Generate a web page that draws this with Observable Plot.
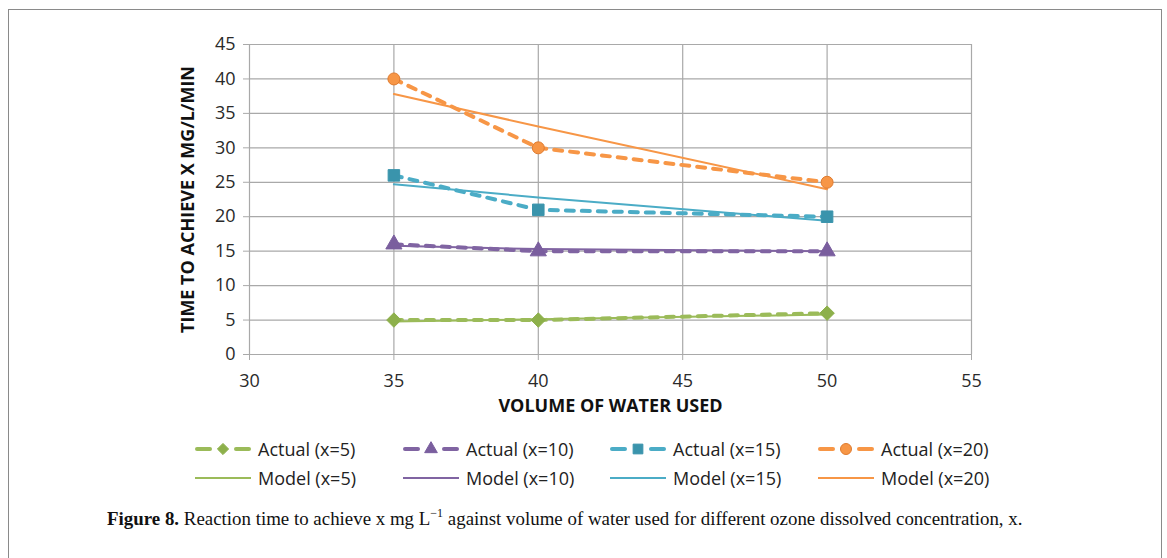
<!DOCTYPE html>
<html>
<head>
<meta charset="utf-8">
<script src="https://cdn.jsdelivr.net/npm/d3@7"></script>
<script src="https://cdn.jsdelivr.net/npm/@observablehq/plot@0.6"></script>
<style>
  html, body { margin: 0; padding: 0; background: #fff; width: 1167px; height: 558px; overflow: hidden; }
  #frame { position: absolute; left: 8px; top: 9px; width: 1154px; height: 620px; border: 1.5px solid #8a8a8a; box-sizing: border-box; }
  #chart { position: absolute; left: 0; top: 0; }
  #legend { position: absolute; left: 0; top: 0; font-family: "Open Sans", sans-serif; font-size: 18px; color: #222; }
  .item { position: absolute; display: flex; align-items: center; height: 24px; white-space: nowrap; }
  .item svg { margin-right: 7px; flex: none; }
  #caption { position: absolute; left: 107px; top: 510px; font-family: "Liberation Serif", serif; font-size: 18.9px; color: #111; white-space: nowrap; line-height: 1; }
  #caption b { font-weight: bold; }
  #caption sup { font-size: 12px; vertical-align: 8px; line-height: 0; }
</style>
</head>
<body>
<div id="frame"></div>
<div id="chart"></div>
<div id="legend"></div>
<div id="caption"><b>Figure 8.</b> Reaction time to achieve x mg L<sup>−1</sup> against volume of water used for different ozone dissolved concentration, x.</div>
<script>
// ---- data ----
const volumes = [35, 40, 50];
const actual5 = [5, 5, 6];
const actual10 = [16, 15, 15];
const actual15 = [26, 21, 20];
const actual20 = [40, 30, 25];
const model5 = [4.8, 5.1, 5.8];
const model10 = [15.8, 15.3, 15.0];
const model15 = [24.7, 22.8, 19.4];
const model20 = [37.8, 33.1, 24.0];
const xTicks = [30, 35, 40, 45, 50, 55];
const yTicks = [0, 5, 10, 15, 20, 25, 30, 35, 40, 45];
const xLabel = "VOLUME OF WATER USED";
const yLabel = "TIME TO ACHIEVE X MG/L/MIN";

// ---- series styling ----
const series = [
  {x: 5,  actual: actual5,  model: model5,  color: "#9BBB59", mark: "#8DB04B", symbol: "diamond2", r: 6.5, lsz: 80},
  {x: 10, actual: actual10, model: model10, color: "#8064A2", mark: "#7A5E9E", symbol: "triangle", r: 6, lsz: 70},
  {x: 15, actual: actual15, model: model15, color: "#4BACC6", mark: "#3A94AC", symbol: "square", r: 6.5, lsz: 95},
  {x: 20, actual: actual20, model: model20, color: "#F79646", mark: "#F79646", symbol: "circle", r: 6, lsz: 95}
];

const rows = (arr) => volumes.map((v, i) => ({volume: v, value: arr[i]}));

const marks = [
  Plot.gridX(xTicks, {stroke: "#a9a9a9", strokeOpacity: 1, strokeWidth: 1.2}),
  Plot.gridY(yTicks, {stroke: "#a9a9a9", strokeOpacity: 1, strokeWidth: 1.2}),
  Plot.axisX({ticks: xTicks, tickSize: 6, tickPadding: 14, fontSize: 18, stroke: "#a9a9a9", fill: "#2a2a2a", label: null}),
  Plot.axisY({ticks: yTicks, tickSize: 6, tickPadding: 8, fontSize: 18, stroke: "#a9a9a9", fill: "#2a2a2a", label: null}),
];
for (const s of series) {
  marks.push(Plot.line(rows(s.model), {x: "volume", y: "value", stroke: s.color, strokeWidth: 2}));
}
for (const s of series) {
  marks.push(Plot.line(rows(s.actual), {x: "volume", y: "value", stroke: s.color, strokeWidth: 4, strokeDasharray: "8,8", strokeLinecap: "round"}));
  marks.push(Plot.dot(rows(s.actual), {x: "volume", y: "value", symbol: () => s.symbol, fill: s.mark, stroke: s.symbol === "circle" ? "#E07B2E" : s.mark, strokeWidth: 1, r: s.r}));
}
marks.push(Plot.text([yLabel], {frameAnchor: "left", textAnchor: "middle", dx: -61, rotate: -90, fontSize: 18, fontWeight: "bold", fill: "#111"}));
marks.push(Plot.text([xLabel], {frameAnchor: "bottom", textAnchor: "middle", dy: 57, fontSize: 18, fontWeight: "bold", fill: "#111"}));

const chart = Plot.plot({
  width: 1167,
  height: 400,
  marginTop: 44,
  marginBottom: 46,
  marginLeft: 249,
  marginRight: 196,
  style: {fontFamily: "Open Sans, sans-serif", background: "transparent", overflow: "visible"},
  x: {domain: [30, 55]},
  y: {domain: [0, 45]},
  symbol: {type: "identity"},
  marks
});
document.getElementById("chart").appendChild(chart);

// ---- legend ----
const legend = document.getElementById("legend");
const colX = [195, 403, 610, 818];
const rowY = [449, 478];
const symPath = {
  diamond2: d3.symbolDiamond2, triangle: d3.symbolTriangle, square: d3.symbolSquare, circle: d3.symbolCircle
};
series.forEach((s, i) => {
  const a = document.createElement("div");
  a.className = "item";
  a.style.left = colX[i] + "px";
  a.style.top = (rowY[0] - 12) + "px";
  const p = d3.symbol(symPath[s.symbol], s.lsz)();
  a.innerHTML = `<svg width="56" height="16" viewBox="0 0 56 16">
    <line x1="2" y1="8" x2="15" y2="8" stroke="${s.color}" stroke-width="4" stroke-linecap="round"/>
    <line x1="41" y1="8" x2="54" y2="8" stroke="${s.color}" stroke-width="4" stroke-linecap="round"/>
    <path d="${p}" transform="translate(28,8)" fill="${s.mark}" stroke="${s.symbol === "circle" ? "#E07B2E" : s.mark}"/>
  </svg><span>Actual (x=${s.x})</span>`;
  legend.appendChild(a);
  const m = document.createElement("div");
  m.className = "item";
  m.style.left = colX[i] + "px";
  m.style.top = (rowY[1] - 12) + "px";
  m.innerHTML = `<svg width="56" height="16" viewBox="0 0 56 16">
    <line x1="0" y1="8" x2="56" y2="8" stroke="${s.color}" stroke-width="2"/>
  </svg><span>Model (x=${s.x})</span>`;
  legend.appendChild(m);
});
</script>
</body>
</html>
